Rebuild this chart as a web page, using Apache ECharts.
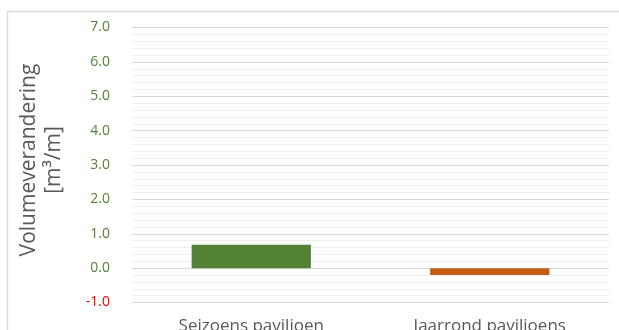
<!DOCTYPE html>
<html>
<head>
<meta charset="utf-8">
<script src="https://cdn.jsdelivr.net/npm/echarts@6/dist/echarts.min.js"></script>
<style>
  html, body { margin: 0; padding: 0; background: #fff; }
  #chart { width: 619px; height: 330px; }
</style>
</head>
<body>
<div id="chart"></div>
<script>
// Volume change per metre for the two pavilion variants
const categories = ['Seizoens paviljoen', 'Jaarrond paviljoens'];
const volumeChange = [0.68, -0.2];
const barColors = ['#548235', '#c55a11'];
const axisMin = -1;
const axisMax = 7;
const axisStep = 1;
const axisTitle = ['Volumeverandering', '[m\u00b3/m]'];

const FONT = '"Open Sans", "Noto Sans", sans-serif';

const chart = echarts.init(document.getElementById('chart'), null, { renderer: 'canvas' });

chart.setOption({
  animation: false,
  backgroundColor: '#ffffff',
  grid: {
    left: 132, right: 10, top: 27.5, bottom: 27.5,
    containLabel: false,
    outerBoundsMode: 'none'
  },
  graphic: [
    {
      type: 'rect',
      z: -1,
      shape: { x: 7.5, y: 11.5, width: 720, height: 400 },
      style: { fill: 'none', stroke: '#d9d9d9', lineWidth: 1.5 }
    },
    {
      type: 'text',
      x: 42,
      y: 160,
      rotation: Math.PI / 2,
      style: {
        text: axisTitle.join('\n'),
        font: '21px ' + FONT,
        fill: '#595959',
        align: 'center',
        verticalAlign: 'middle',
        lineHeight: 25
      }
    }
  ],
  xAxis: {
    type: 'category',
    data: categories,
    axisLine: { show: false },
    axisTick: { show: false },
    axisLabel: {
      color: '#595959',
      fontFamily: FONT,
      fontSize: 17,
      margin: 15
    }
  },
  yAxis: {
    type: 'value',
    min: axisMin,
    max: axisMax,
    interval: axisStep,
    axisLine: { show: false },
    axisTick: { show: false },
    axisLabel: {
      fontFamily: FONT,
      fontSize: 14,
      margin: 22,
      padding: [4, 0, 0, 0],
      formatter: v => v.toFixed(1),
      color: v => (v < 0 ? '#ff0000' : '#548235')
    },
    splitLine: { lineStyle: { color: '#d9d9d9', width: 1 } },
    minorTick: { show: false, splitNumber: 5 },
    minorSplitLine: { show: true, lineStyle: { color: '#f0f0f0', width: 1 } }
  },
  series: [{
    type: 'bar',
    barWidth: '50%',
    data: volumeChange.map((v, i) => ({ value: v, itemStyle: { color: barColors[i] } }))
  }]
});
</script>
</body>
</html>
